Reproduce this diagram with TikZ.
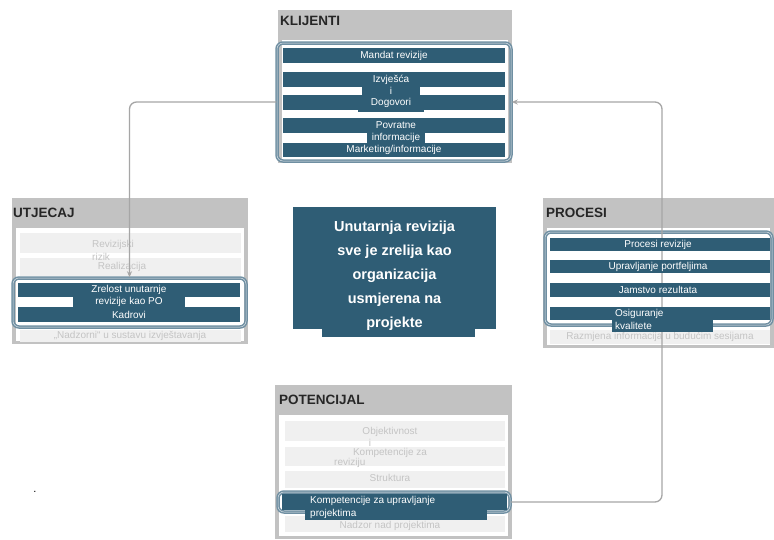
\documentclass[tikz,border=0pt]{standalone}
\usepackage{fontspec}
\setmainfont{Liberation Sans}
\usetikzlibrary{arrows.meta,fit}

\definecolor{barblue}{HTML}{2F5D75}
\definecolor{hdrgray}{HTML}{C2C2C2}
\definecolor{rowgray}{HTML}{F0F0F0}
\definecolor{rowtext}{HTML}{C4C4C4}
\definecolor{grpline}{HTML}{6F8FA2}
\definecolor{linkgray}{HTML}{A6A6A6}

\tikzset{
  paneltitle/.style={anchor=west, font=\fontsize{13.5}{14}\selectfont\bfseries, text=black!85, inner sep=0pt},
  bartext/.style={text=white, font=\fontsize{10}{10}\selectfont, inner sep=0pt},
  rowlabel/.style={text=rowtext, font=\fontsize{10}{10}\selectfont, inner sep=0pt},
  group/.style={draw=grpline, line width=1.5pt, double=grpline!25, double distance=0.5pt, rounded corners=6pt, inner sep=0pt},
  link/.style={draw=linkgray, line width=1.3pt, rounded corners=7pt, -{Stealth[length=6pt,width=5pt]}},
  centertext/.style={text=white, font=\fontsize{14.5}{24}\selectfont\bfseries, align=center, inner sep=0pt}
}

% gray frame with a header band and a white body
\newcommand\panelbox[5]{%
  \fill[hdrgray] (#1,#2) rectangle (#3,#4);
  \fill[white] ({#1+4},#5) rectangle ({#3-4},{#4-3});
}

\begin{document}
\begin{tikzpicture}[x=1pt,y=-1pt]
\useasboundingbox[fill=white] (0,0) rectangle (774,539);

% ---------- panels ----------
\panelbox{278}{10}{512}{163}{40}
\panelbox{12}{198}{248}{344}{228}
\panelbox{543}{198}{774}{348}{228}
\panelbox{275}{385}{512}{539}{415}

\node[paneltitle] (tk) at (280,21) {KLIJENTI};
\node[paneltitle] (tu) at (13,213) {UTJECAJ};
\node[paneltitle] (tp) at (546,213) {PROCESI};
\node[paneltitle] (tpo) at (279,400) {POTENCIJAL};

% ---------- light rows ----------
\fill[rowgray] (20,233) rectangle (241,253);
\fill[rowgray] (20,258) rectangle (241,276);
\node[rowlabel, anchor=west] (ru1) at (92,245) {Revizijski};
\node[rowlabel, anchor=west] (ru2) at (92,257) {rizik};
\node[rowlabel] (ru3) at (122,267) {Realizacija};
\fill[rowgray] (20,330) rectangle (241,342);
\node[rowlabel] (ru4) at (130,336) {„Nadzorni“ u sustavu izvještavanja};

\fill[rowgray] (550,330) rectangle (770,344);
\node[rowlabel] (rp1) at (660,337) {Razmjena informacija u budućim sesijama};

\fill[rowgray] (285,421) rectangle (505,441);
\fill[rowgray] (285,447) rectangle (505,466);
\fill[rowgray] (285,471) rectangle (505,488);
\fill[rowgray] (285,516) rectangle (505,532);
\node[rowlabel] (rpo1) at (390,432) {Objektivnost};
\node[rowlabel] (rpo2) at (370,443) {i};
\node[rowlabel] (rpo3) at (390,453) {Kompetencije za};
\node[rowlabel, anchor=west] (rpo4) at (334,463) {reviziju};
\node[rowlabel] (rpo5) at (390,478) {Struktura};
\node[rowlabel] (rpo6) at (390,526) {Nadzor nad projektima};

% ---------- group outlines (named, used by the links) ----------
\node[group, fit={(277,43) (511,161)}] (gk) {};
\node[group, fit={(13,278) (246,327)}] (gu) {};
\node[group, fit={(545,232) (772,325)}] (gp) {};
\node[group, fit={(278,492) (510,512)}] (gpo) {};

% ---------- links ----------
\draw[link] (gk.west) -| (gu.north);
\coordinate (turn) at (662,300);
\draw[link] (gpo.east) -| (turn) |- (gk.east);

% ---------- KLIJENTI bars ----------
\fill[barblue] (283,48) rectangle (505,63);
\fill[barblue] (283,72) rectangle (505,87);
\fill[barblue] (362,86) rectangle (420,96);
\fill[barblue] (283,95) rectangle (505,110);
\fill[barblue] (358,109) rectangle (424,112);
\fill[barblue] (283,118) rectangle (505,133);
\fill[barblue] (367,132) rectangle (425,144);
\fill[barblue] (283,143) rectangle (505,157);
\node[bartext] (k1) at (394,55.5) {Mandat revizije};
\node[bartext] (k2) at (391,79.5) {Izvješća};
\node[bartext] (k3) at (391,91) {i};
\node[bartext] (k4) at (391,102.5) {Dogovori};
\node[bartext] (k5) at (396,125.5) {Povratne};
\node[bartext] (k6) at (396,138) {informacije};
\node[bartext] (k7) at (394,150) {Marketing/informacije};

% ---------- UTJECAJ bars ----------
\fill[barblue] (18,283) rectangle (240,297);
\fill[barblue] (73,296) rectangle (185,308);
\fill[barblue] (18,307) rectangle (240,322);
\node[bartext] (u1) at (129,290) {Zrelost unutarnje};
\node[bartext] (u2) at (129,302) {revizije kao PO};
\node[bartext] (u3) at (129,314.5) {Kadrovi};

% ---------- PROCESI bars ----------
\fill[barblue] (550,238) rectangle (770,251);
\fill[barblue] (550,260) rectangle (770,273);
\fill[barblue] (550,283) rectangle (770,297);
\fill[barblue] (550,307) rectangle (770,320);
\fill[barblue] (612,319) rectangle (713,332);
\node[bartext] (p1) at (658,244.5) {Procesi revizije};
\node[bartext] (p2) at (658,266.5) {Upravljanje portfeljima};
\node[bartext] (p3) at (658,290) {Jamstvo rezultata};
\node[bartext, anchor=west] (p4) at (615,313.5) {Osiguranje};
\node[bartext, anchor=west] (p5) at (615,326) {kvalitete};

% ---------- POTENCIJAL bar ----------
\fill[barblue] (282,494) rectangle (507,510);
\fill[barblue] (305,509) rectangle (487,520);
\node[bartext, anchor=west] (po1) at (310,501) {Kompetencije za upravljanje};
\node[bartext, anchor=west] (po2) at (310,514) {projektima};

% ---------- centre statement ----------
\fill[barblue] (293,207) rectangle (496,329);
\fill[barblue] (322,328) rectangle (475,337);
\node[centertext] (ct) at (394.5,276) {Unutarnja revizija\\sve je zrelija kao\\organizacija\\usmjerena na\\projekte};

% stray mark at lower left
\node[inner sep=0pt, font=\fontsize{11}{11}\selectfont] (dot) at (35,492) {.};
\end{tikzpicture}
\end{document}
